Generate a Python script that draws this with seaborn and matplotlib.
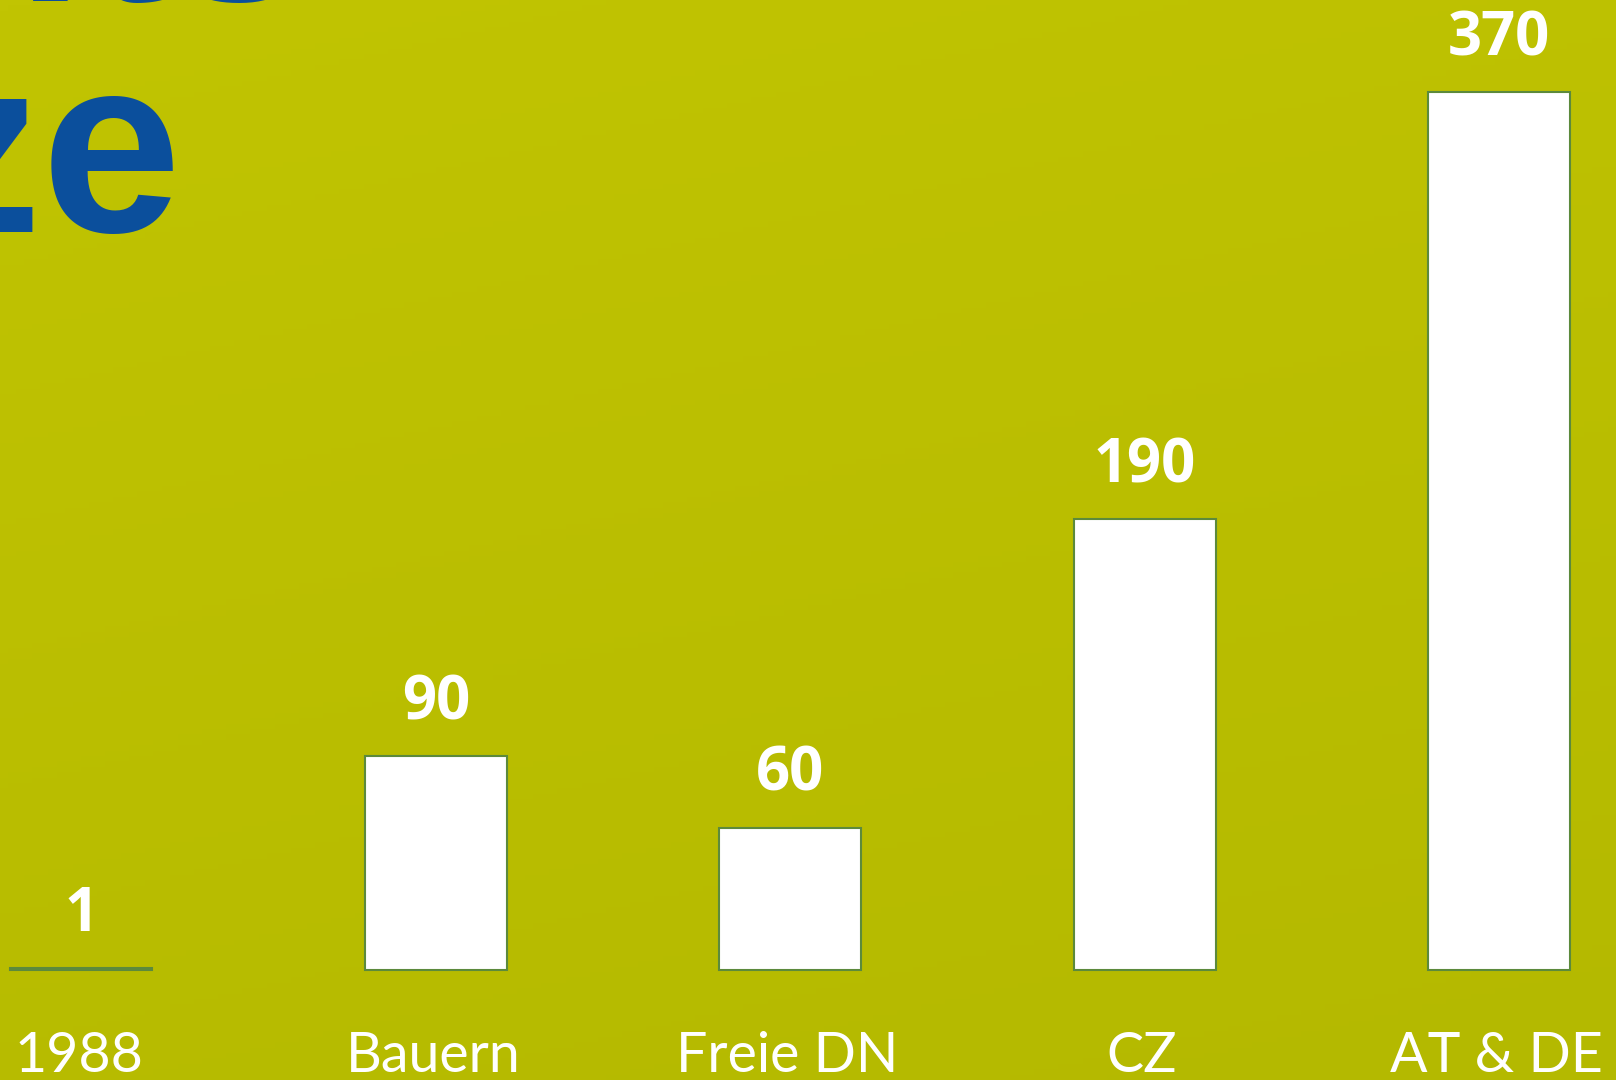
import numpy as np
import pandas as pd
import seaborn as sns
import matplotlib.pyplot as plt
from matplotlib.colors import LinearSegmentedColormap

# Data
categories = ['1988', 'Bauern', 'Freie DN', 'CZ', 'AT & DE']
values = [1, 90, 60, 190, 370]

bg_color = '#b9be02'
edge_color = '#5c8a3c'
title_blue = '#0b4f9c'

sns.set_theme(style='white')
plt.rcParams['font.family'] = ['Lato', 'DejaVu Sans']

df = pd.DataFrame({'cat': categories, 'val': values})

fig = plt.figure(figsize=(16.16, 10.80), dpi=100)
fig.patch.set_facecolor(bg_color)
ax = fig.add_axes([0, 0, 1, 1])
ax.set_facecolor(bg_color)

# soft background shading, a bit lighter towards the top left
bg_cmap = LinearSegmentedColormap.from_list('bg', ['#b4b900', '#c1c402'])
yy, xx = np.mgrid[0:1:200j, 0:1:200j]
shade = 0.75 * yy + 0.25 * (1 - xx)
ax.imshow(shade, cmap=bg_cmap, extent=(0, 1, 0, 1), transform=ax.transAxes,
          origin='lower', aspect='auto', zorder=0)

sns.barplot(data=df, x='cat', y='val', color='white', edgecolor=edge_color,
            linewidth=1.5, width=0.4, saturation=1, ax=ax, zorder=2)

# map the layout of the reference: bar centres 354.5 px apart, baseline 110 px from bottom
ax.set_xlim(-0.2296, 4.329)
ax.set_ylim(-46.35, 408.8)
ax.set_axis_off()

for i, v in enumerate(values):
    ax.annotate(str(v), xy=(i, v), xytext=(0, 26.6), textcoords='offset points',
                ha='center', va='baseline', color='white', fontsize=43,
                fontweight='bold', family=['Open Sans', 'DejaVu Sans'])
    ax.annotate(categories[i], xy=(i, 0), xytext=(-2, -73.4), textcoords='offset points',
                ha='center', va='baseline', color='white', fontsize=40)

# title fragments, mostly cropped off the canvas
fig.text(182 / 1616, 1 - 232 / 1080, 'Arbeitsplätze', ha='right', va='baseline',
         color=title_blue, fontsize=181, fontweight='bold', family='Liberation Sans')
fig.text(310 / 1616, 1 - 0 / 1080, 'Arbeits', ha='right', va='baseline',
         color=title_blue, fontsize=181, fontweight='bold', family='Liberation Sans')

fig.savefig('out.png', dpi=100, facecolor=bg_color)
